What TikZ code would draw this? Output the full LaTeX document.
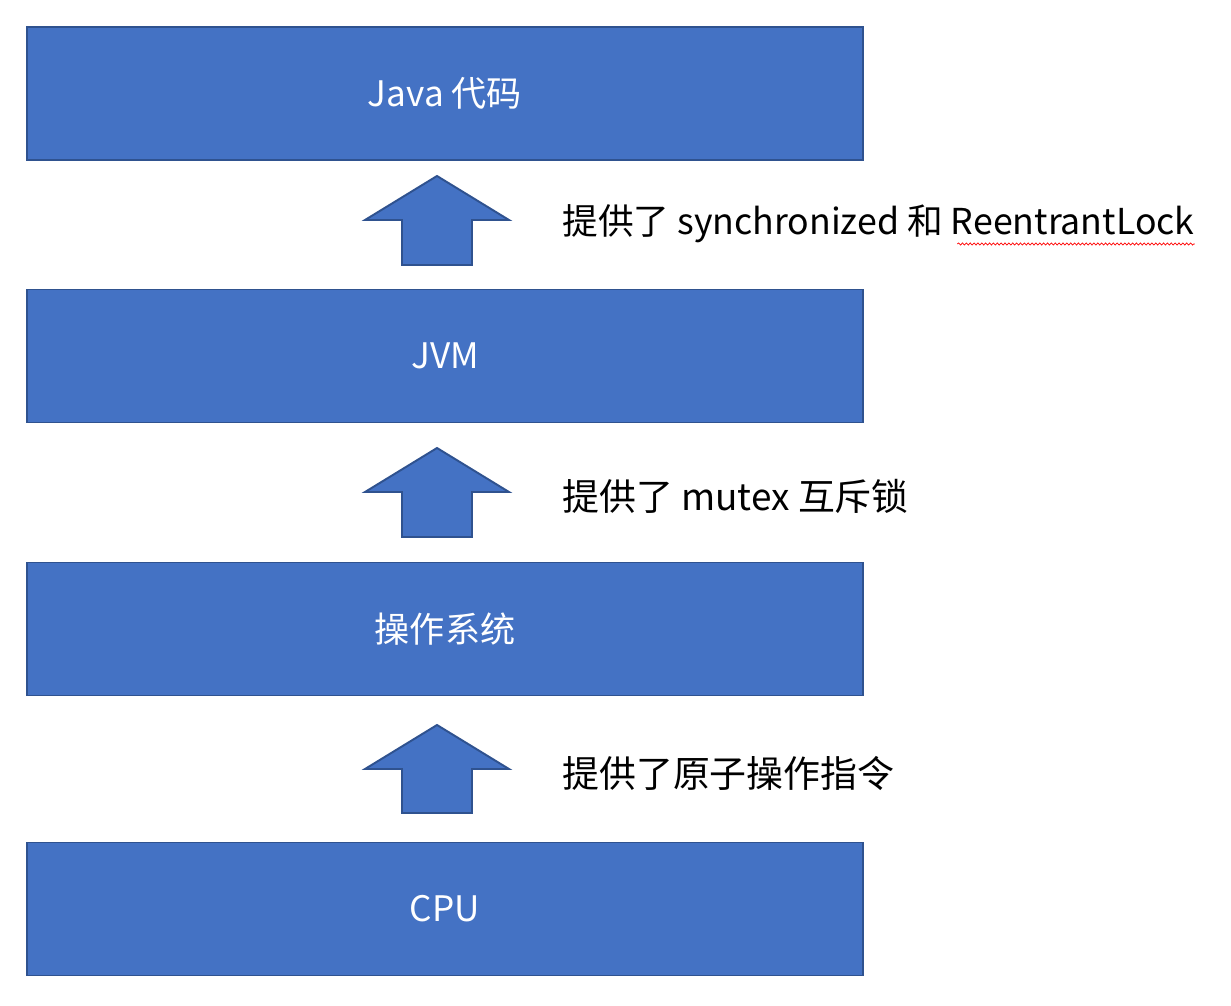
\documentclass[tikz,border=0pt]{standalone}
\usepackage{fontspec}
\setmainfont{Noto Sans CJK SC}
\usetikzlibrary{decorations.pathmorphing}
\definecolor{boxblue}{HTML}{4472C4}
\definecolor{edgeblue}{HTML}{2F528F}
\tikzset{
  layer/.style={draw=edgeblue, fill=boxblue, line width=1.1pt, minimum width=16.72cm,
    minimum height=2.66cm, text=white, font=\fontsize{20}{24}\selectfont},
  uparrow/.style={draw=edgeblue, fill=boxblue, line width=1.1pt, line join=miter},
  note/.style={anchor=west, inner sep=0pt, font=\fontsize{21}{25}\selectfont}
}
\begin{document}
\begin{tikzpicture}
\useasboundingbox (0,0) rectangle (24.62,20.12);
\node[layer] (java) at (8.9,18.25) {Java 代码};
\node[layer] (jvm) at (8.9,13.0) {JVM};
\node[layer] (os) at (8.9,7.54) {操作系统};
\node[layer] (cpu) at (8.9,1.94) {CPU};

\draw[uparrow] (8.74,16.6)--(10.18,15.72)--(9.44,15.72)--(9.44,14.82)--(8.04,14.82)--(8.04,15.72)--(7.3,15.72)--cycle;
\node[note, font=\fontsize{20.3}{24}\selectfont] (sync) at (11.24,15.64) {提供了 synchronized 和 ReentrantLock};
\draw[red, line width=0.4pt, decorate, decoration={snake, amplitude=0.6pt, segment length=2.2pt}]
  ([xshift=-4.75cm,yshift=-0.4cm]sync.east)--([yshift=-0.4cm]sync.east);

\draw[uparrow] (8.74,11.16)--(10.18,10.28)--(9.44,10.28)--(9.44,9.38)--(8.04,9.38)--(8.04,10.28)--(7.3,10.28)--cycle;
\node[note] (mutex) at (11.24,10.2) {提供了 mutex 互斥锁};

\draw[uparrow] (8.74,5.62)--(10.18,4.74)--(9.44,4.74)--(9.44,3.86)--(8.04,3.86)--(8.04,4.74)--(7.3,4.74)--cycle;
\node[note] (atomic) at (11.24,4.66) {提供了原子操作指令};
\end{tikzpicture}
\end{document}
